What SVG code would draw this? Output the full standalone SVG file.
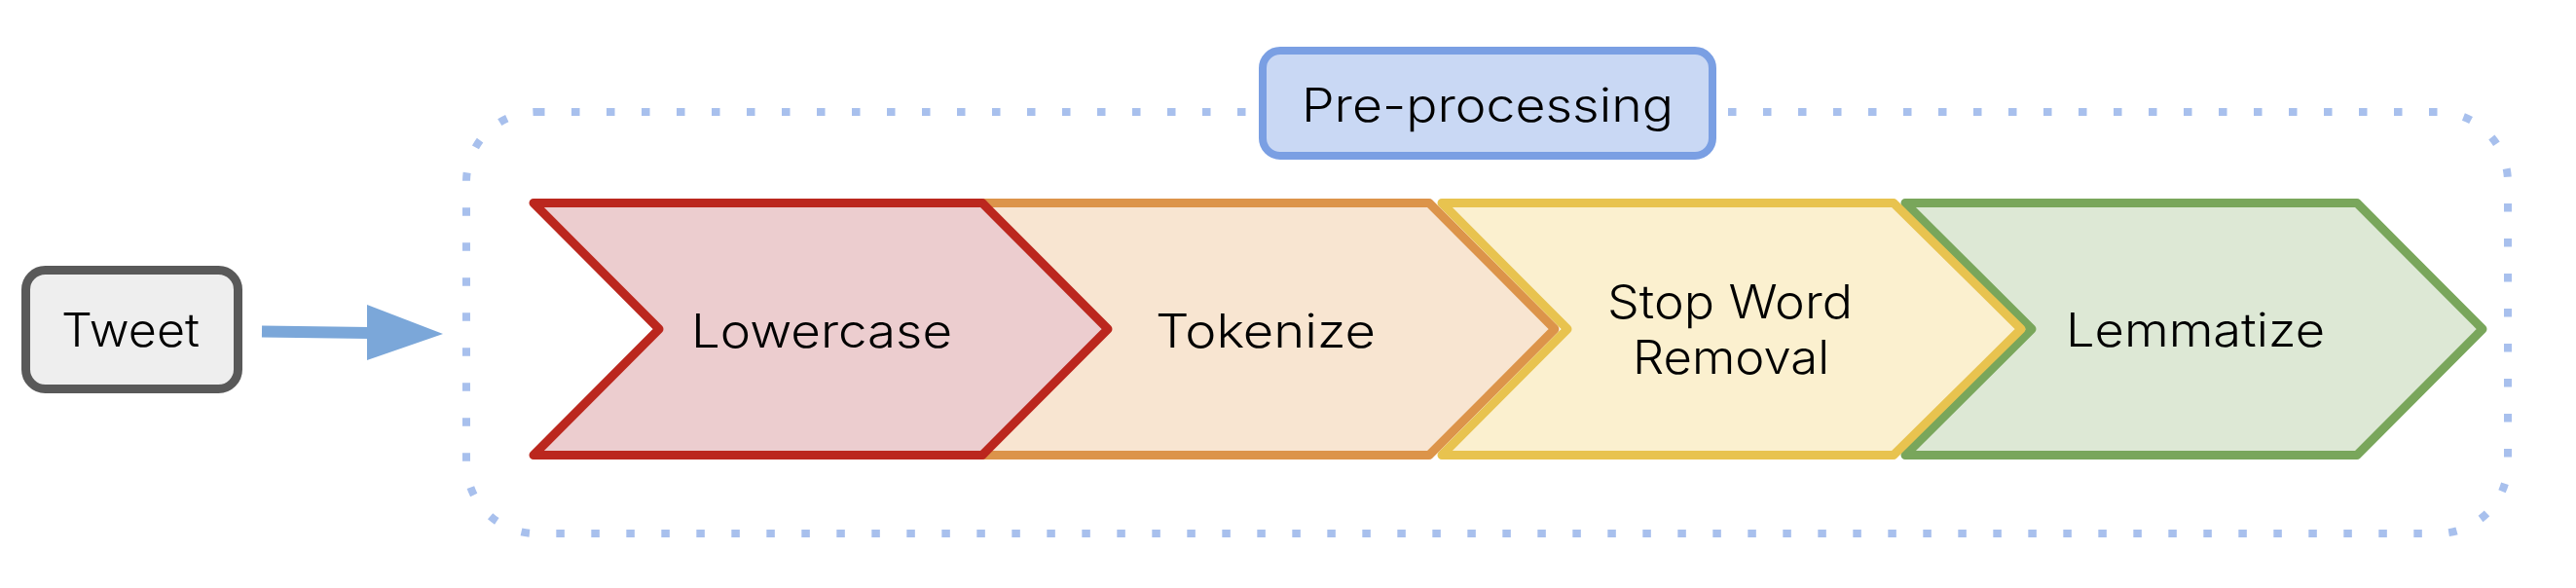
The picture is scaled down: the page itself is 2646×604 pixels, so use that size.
<svg xmlns="http://www.w3.org/2000/svg" width="2646" height="604" viewBox="0 0 2646 604">
<defs>
<style>
.lbl{font-family:Inter,"Noto Sans","Liberation Sans",sans-serif;font-size:48px;font-weight:300;fill:#000;text-anchor:middle}
.chev{stroke-width:9;stroke-linejoin:round}
</style>
</defs>
<rect width="2646" height="604" fill="#ffffff"/>
<g id="container">
<rect x="479" y="115" width="2097" height="433" rx="72" ry="72" fill="none" stroke="#a8c0ed" stroke-width="8" stroke-dasharray="8.5 27.5"/>
</g>
<g id="tweet">
<rect x="26.5" y="277.5" width="218" height="122" rx="20" ry="20" fill="#eeeeee" stroke="#595959" stroke-width="9"/>
<text class="lbl" x="134" y="356" textLength="142" lengthAdjust="spacingAndGlyphs">Tweet</text>
</g>
<g id="connectors">
<path d="M269 340.5 L380 342" stroke="#7ba7d9" stroke-width="12" fill="none"/>
<polygon points="377,313 455,343 377,370" fill="#7ba7d9"/>
</g>
<g id="lemmatize">
<polygon class="chev" points="1957,208.5 2421,208.5 2550,338 2421,467.5 1957,467.5 2087,338" fill="#dde8d5" stroke="#79a65b"/>
<text class="lbl" x="2255" y="356" textLength="266" lengthAdjust="spacingAndGlyphs">Lemmatize</text>
</g>
<g id="stopword">
<polygon class="chev" points="1481,208.5 1945,208.5 2076,338 1945,467.5 1481,467.5 1610,338" fill="#fbf0cf" stroke="#e8c34f"/>
<text class="lbl" x="1777" y="327" textLength="252" lengthAdjust="spacingAndGlyphs">Stop Word</text>
<text class="lbl" x="1778" y="384" textLength="202" lengthAdjust="spacingAndGlyphs">Removal</text>
</g>
<g id="tokenize">
<polygon class="chev" points="1005,208.5 1468,208.5 1597,338 1468,467.5 1005,467.5 1134,338" fill="#f8e5d1" stroke="#dc944a"/>
<text class="lbl" x="1300" y="357" textLength="226" lengthAdjust="spacingAndGlyphs">Tokenize</text>
</g>
<g id="lowercase">
<polygon class="chev" points="548,208.5 1009,208.5 1138,338 1009,467.5 548,467.5 677,338" fill="#eccdcf" stroke="#bb271e"/>
<text class="lbl" x="844" y="357" textLength="268" lengthAdjust="spacingAndGlyphs">Lowercase</text>
</g>
<g id="preprocessing">
<rect x="1297" y="52" width="462" height="108" rx="18" ry="18" fill="#c9d8f4" stroke="#7a9fe3" stroke-width="8"/>
<text class="lbl" x="1528" y="125" textLength="382" lengthAdjust="spacingAndGlyphs">Pre-processing</text>
</g>
</svg>
